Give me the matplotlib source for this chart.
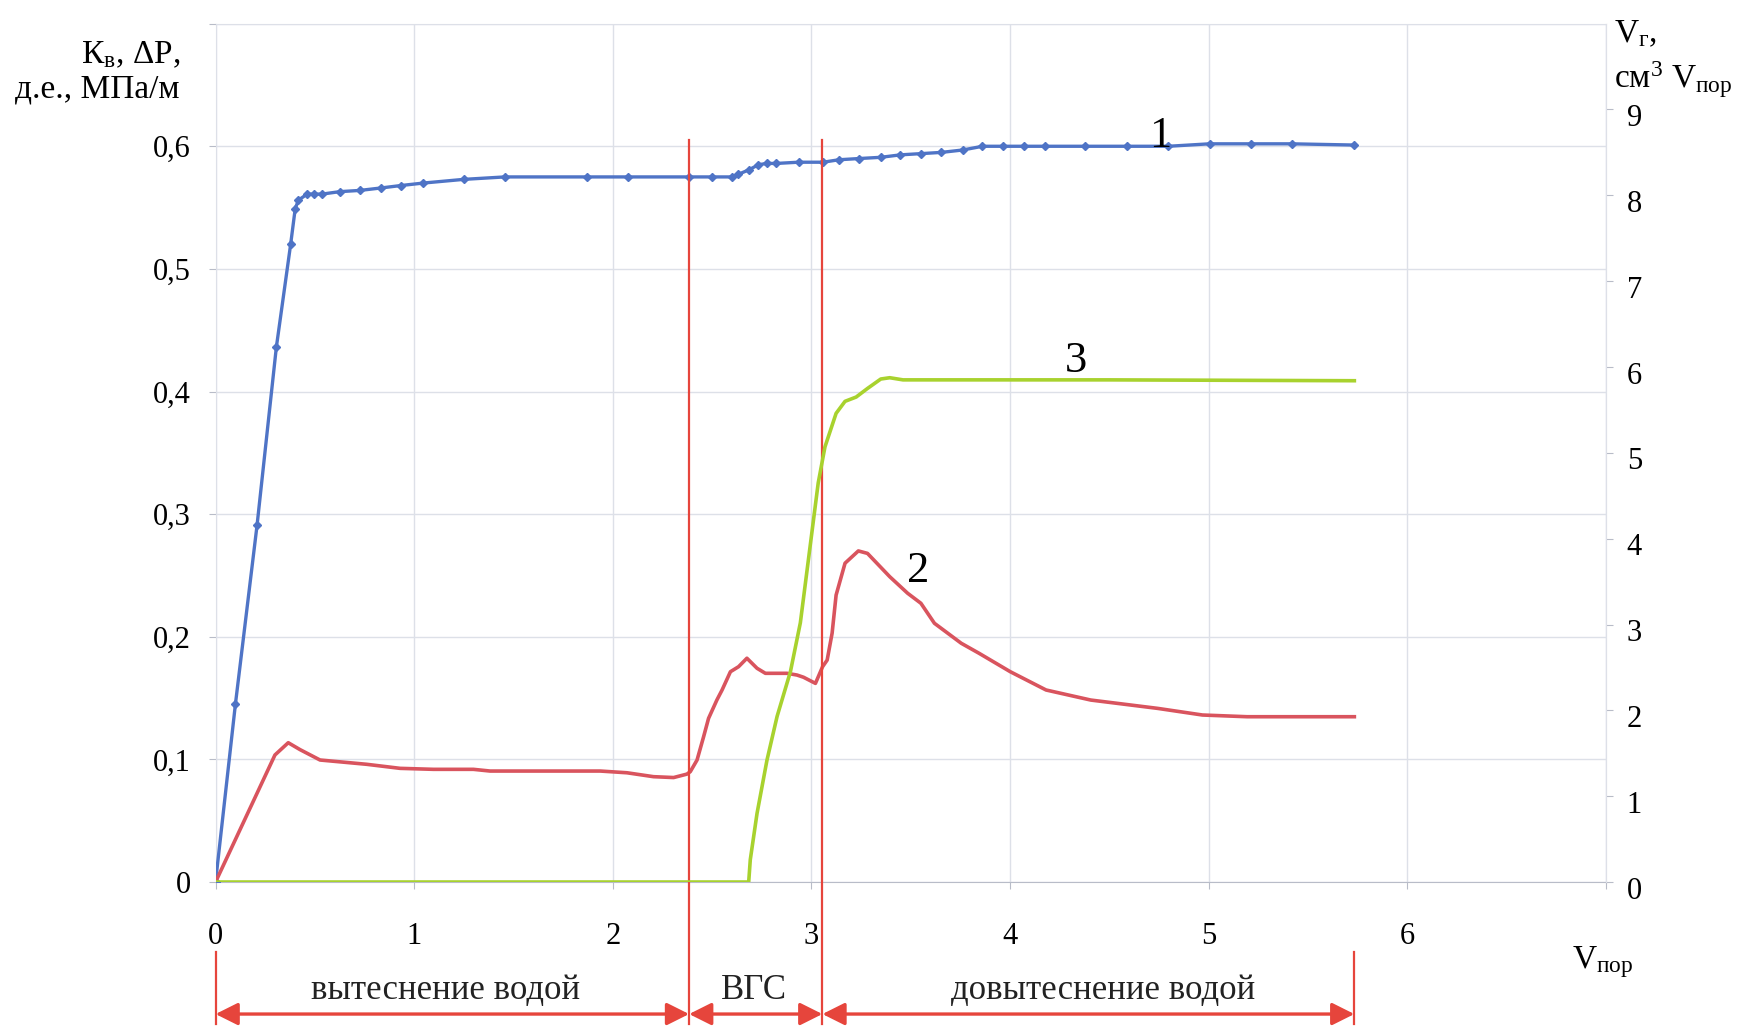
import matplotlib
matplotlib.use("Agg")
import matplotlib.pyplot as plt
import matplotlib.transforms as mtransforms

plt.rcParams['font.family'] = ['Liberation Serif', 'DejaVu Serif']
plt.rcParams['mathtext.fontset'] = 'custom'
plt.rcParams['mathtext.rm'] = 'Liberation Serif'
plt.rcParams['mathtext.default'] = 'regular'

# Kв, д.е. (curve 1)
kv_x = [0, 0.10, 0.209, 0.306, 0.378, 0.401, 0.417, 0.461, 0.495, 0.536, 0.626,
        0.727, 0.833, 0.934, 1.046, 1.249, 1.456, 1.868, 2.077, 2.384, 2.497,
        2.598, 2.63, 2.688, 2.733, 2.778, 2.823, 2.935, 3.059, 3.138, 3.24,
        3.349, 3.448, 3.551, 3.654, 3.763, 3.861, 3.966, 4.072, 4.176, 4.375,
        4.59, 4.797, 5.004, 5.211, 5.418, 5.733]
kv_y = [0, 0.145, 0.291, 0.436, 0.520, 0.549, 0.556, 0.561, 0.561, 0.561, 0.563,
        0.564, 0.566, 0.568, 0.570, 0.573, 0.575, 0.575, 0.575, 0.575, 0.575,
        0.575, 0.577, 0.581, 0.585, 0.586, 0.586, 0.587, 0.587, 0.589, 0.590,
        0.591, 0.593, 0.594, 0.595, 0.597, 0.600, 0.600, 0.600, 0.600, 0.600,
        0.600, 0.600, 0.602, 0.602, 0.602, 0.601]

# ΔP, МПа/м (curve 2)
dp_x = [0, 0.299, 0.366, 0.425, 0.526, 0.627, 0.761, 0.929, 1.097, 1.298, 1.382,
        1.60, 1.937, 2.071, 2.205, 2.306, 2.373, 2.39, 2.424, 2.457, 2.482,
        2.524, 2.55, 2.592, 2.633, 2.675, 2.726, 2.768, 2.877, 2.927, 2.96,
        3.02, 3.056, 3.079, 3.104, 3.124, 3.169, 3.236, 3.282, 3.394, 3.484,
        3.551, 3.619, 3.754, 3.844, 4.001, 4.181, 4.406, 4.743, 4.968, 5.193,
        5.733]
dp_y = [0, 0.1036, 0.1136, 0.108, 0.0995, 0.098, 0.096, 0.0927, 0.0919, 0.0919,
        0.0905, 0.0905, 0.0905, 0.0891, 0.0859, 0.0852, 0.088, 0.090, 0.0995,
        0.1185, 0.1335, 0.1485, 0.1566, 0.1715, 0.1756, 0.1825, 0.1743, 0.1702,
        0.1702, 0.1688, 0.167, 0.162, 0.1756, 0.181, 0.203, 0.234, 0.26, 0.270,
        0.268, 0.249, 0.2355, 0.2273, 0.211, 0.1947, 0.1865, 0.1715, 0.1566,
        0.1484, 0.1416, 0.1362, 0.1348, 0.1348]

# Vг, см3 (curve 3, right axis)
vg_x = [0, 2.684, 2.692, 2.726, 2.776, 2.827, 2.894, 2.944, 3.034, 3.068, 3.124,
        3.169, 3.225, 3.282, 3.349, 3.394, 3.461, 4.5, 5.733]
vg_y = [0, 0, 0.26, 0.80, 1.42, 1.93, 2.45, 3.02, 4.65, 5.07, 5.46, 5.60, 5.65,
        5.75, 5.86, 5.875, 5.85, 5.85, 5.84]

# stage boundaries and names
stage_bounds = [0, 2.384, 3.055, 5.733]
stage_names = ['вытеснение водой', 'ВГС', 'довытеснение водой']
stage_label_x = [1.16, 2.71, 4.47]

x_ticks = [0, 1, 2, 3, 4, 5, 6, 7]
x_labels = ['0', '1', '2', '3', '4', '5', '6', '']
y_ticks = [0, 0.1, 0.2, 0.3, 0.4, 0.5, 0.6, 0.7]
y_labels = ['0', '0,1', '0,2', '0,3', '0,4', '0,5', '0,6', '']
y2_ticks = [0, 1, 2, 3, 4, 5, 6, 7, 8, 9]

blue = '#4f74c6'
red_curve = '#d9545e'
green = '#a8d22e'
red_line = '#e6453c'
grid_c = '#dde0e8'
tick_c = '#b8bcc8'

fig = plt.figure(figsize=(17.61, 10.28), dpi=100)
ax = fig.add_axes([0.1224, 0.142, 0.7896, 0.835])
ax2 = ax.twinx()

ax.set_xlim(0, 7)
ax.set_ylim(0, 0.7)
ax2.set_ylim(0, 10)

ax.set_xticks(x_ticks)
ax.set_xticklabels(x_labels)
ax.set_yticks(y_ticks)
ax.set_yticklabels(y_labels)
ax2.set_yticks(y2_ticks)

ax.grid(True, color=grid_c, lw=1.0)
ax.set_axisbelow(True)
for sp in ax.spines.values():
    sp.set_color(grid_c)
for sp in ax2.spines.values():
    sp.set_visible(False)
ax2.spines['right'].set_visible(True)
ax2.spines['right'].set_color(grid_c)
ax.spines['bottom'].set_color(tick_c)

ax.tick_params(axis='x', direction='out', length=5, color=tick_c,
               labelsize=22, pad=24)
ax.tick_params(axis='y', direction='out', length=5, color=tick_c,
               labelsize=22, pad=13)
ax2.tick_params(axis='y', direction='out', length=5, color=tick_c,
                labelsize=22, pad=10)

# right-hand labels sit a little lower than their ticks
shift = mtransforms.ScaledTranslation(0, -4 / 72, fig.dpi_scale_trans)
for lab in ax2.get_yticklabels():
    lab.set_transform(lab.get_transform() + shift)

ax.plot(kv_x, kv_y, color=blue, lw=2.4, marker='D', markersize=4.5, zorder=3)
ax.plot(dp_x, dp_y, color=red_curve, lw=2.6, zorder=3)
ax2.plot(vg_x, vg_y, color=green, lw=2.6, zorder=3)

# curve numbers
ax.text(4.757, 0.608, '1', fontsize=32, ha='center', va='center')
ax.text(3.536, 0.254, '2', fontsize=32, ha='center', va='center')
ax.text(4.33, 0.4245, '3', fontsize=32, ha='center', va='center')

# stage markers below the plot
trans = ax.get_xaxis_transform()
line_top = 0.605 / 0.7
line_low = -0.1655
for xb in stage_bounds:
    top = line_top if xb in stage_bounds[1:3] else -0.0816
    ax.plot([xb, xb], [top, line_low], color=red_line, lw=1.6,
            transform=trans, clip_on=False, zorder=4)
for x0, x1 in zip(stage_bounds[:-1], stage_bounds[1:]):
    ax.annotate('', xy=(x1, -0.1538), xytext=(x0, -0.1538), xycoords=trans,
                textcoords=trans, annotation_clip=False,
                arrowprops=dict(arrowstyle='<|-|>', color=red_line, lw=2.4,
                                mutation_scale=34, shrinkA=0, shrinkB=0))
for xl, name in zip(stage_label_x, stage_names):
    ax.text(xl, -0.126, name, transform=trans, fontsize=25,
            ha='center', va='center', color='#222222')

# axis titles
fig.text(0.1022, 0.9387, 'К$_в$, ΔP,', fontsize=24, ha='right', va='baseline')
fig.text(0.1022, 0.9056, 'д.е., МПа/м', fontsize=24, ha='right', va='baseline')
fig.text(0.9165, 0.959, 'V$_г$,', fontsize=24, ha='left', va='baseline')
fig.text(0.9165, 0.914, 'см$^3$ V$_{пор}$', fontsize=24, ha='left', va='baseline')
fig.text(0.8927, 0.0584, 'V$_{пор}$', fontsize=24, ha='left', va='baseline')

fig.savefig('out.png', dpi=100, facecolor='white')
